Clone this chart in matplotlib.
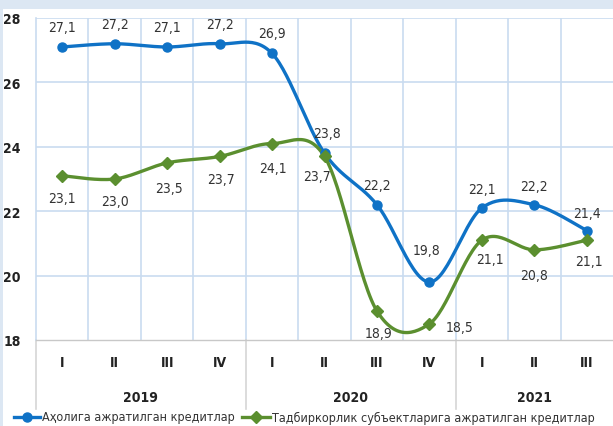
import matplotlib.pyplot as plt
import numpy as np
from matplotlib.lines import Line2D
from matplotlib.patches import Rectangle

# --- данные ---
quarters = ["I", "II", "III", "IV", "I", "II", "III", "IV", "I", "II", "III"]
years = ["2019", "2020", "2021"]
year_first = [0, 4, 8]
year_last = [3, 7, 10]

population = [27.1, 27.2, 27.1, 27.2, 26.9, 23.8, 22.2, 19.8, 22.1, 22.2, 21.4]
business = [23.1, 23.0, 23.5, 23.7, 24.1, 23.7, 18.9, 18.5, 21.1, 20.8, 21.1]

series_names = ["Аҳолига ажратилган кредитлар",
                "Тадбиркорлик субъектларига ажратилган кредитлар"]

# подписи: смещение в пикселях (dx, dy) от точки
pop_offsets = [(0, 20), (0, 20), (0, 20), (0, 20), (0, 20), (2, 20),
               (0, 20), (-3, 32), (0, 19), (0, 19), (0, 18)]
bus_offsets = [(0, -22), (0, -22), (2, -25), (1, -23), (1, -24), (-7, -20),
               (2, -22), (30, -3), (8, -19), (0, -25), (2, -21)]

BLUE = "#0f72c6"
GREEN = "#5b8f2f"
GRID = "#c9dcf0"
BG = "#dce7f3"
FONT = dict(fontfamily="DejaVu Sans", fontstretch="condensed")

W, H = 613, 427


def smooth(y, n=30):
    """Сглаживание как в Excel (кривые Безье, Catmull-Rom)."""
    x = np.arange(len(y), dtype=float)
    y = np.asarray(y, dtype=float)
    px = np.concatenate([[x[0]], x, [x[-1]]])
    py = np.concatenate([[y[0]], y, [y[-1]]])
    t = np.linspace(0, 1, n)[:, None]
    out = []
    for i in range(len(x) - 1):
        p0 = np.array([px[i], py[i]])
        p1 = np.array([px[i + 1], py[i + 1]])
        p2 = np.array([px[i + 2], py[i + 2]])
        p3 = np.array([px[i + 3], py[i + 3]])
        c1 = p1 + (p2 - p0) / 6
        c2 = p2 - (p3 - p1) / 6
        seg = ((1 - t) ** 3) * p1 + 3 * ((1 - t) ** 2) * t * c1 \
            + 3 * (1 - t) * t ** 2 * c2 + t ** 3 * p2
        out.append(seg if i == 0 else seg[1:])
    out = np.vstack(out)
    return out[:, 0], out[:, 1]


fig = plt.figure(figsize=(W / 100, H / 100), dpi=100, facecolor="white")

# светло-голубая рамка сверху и слева
fig.patches.append(Rectangle((0, 1 - 10 / H), 1, 10 / H, transform=fig.transFigure,
                             facecolor=BG, edgecolor="none", zorder=0))
fig.patches.append(Rectangle((0, 0), 3 / W, 1, transform=fig.transFigure,
                             facecolor=BG, edgecolor="none", zorder=0))

top_px, bot_px, left_px = 19, 341, 36
ax = fig.add_axes([left_px / W, (H - bot_px) / H, (W - left_px) / W, (bot_px - top_px) / H])
x = np.arange(len(quarters))
ax.set_xlim(-0.5, len(quarters) - 0.5)
ax.set_ylim(18, 28)
ax.set_yticks(range(18, 29, 2))
ax.set_yticklabels([str(v) for v in range(18, 29, 2)], fontweight="bold",
                   fontsize=10, color="#222222", **FONT)
ax.tick_params(axis="y", length=0, pad=11)
ax.set_xticks([])

for v in range(20, 29, 2):
    ax.axhline(v, color=GRID, lw=1.2, zorder=0)
for b in np.arange(0.5, len(quarters) - 0.5, 1):
    ax.axvline(b, color=GRID, lw=1.2, zorder=0)
for s in ["top", "right"]:
    ax.spines[s].set_visible(False)
ax.spines["left"].set_color(GRID)
ax.spines["left"].set_linewidth(1.2)
ax.spines["bottom"].set_color("#c8c8c8")
ax.spines["bottom"].set_linewidth(1.0)

# линии
sx, sy = smooth(population)
ax.plot(sx, sy, color=BLUE, lw=2.4, zorder=3, solid_capstyle="round")
ax.plot(x, population, "o", color=BLUE, ms=6.5, zorder=4)
sx, sy = smooth(business)
ax.plot(sx, sy, color=GREEN, lw=2.4, zorder=3, solid_capstyle="round")
ax.plot(x, business, "D", color=GREEN, ms=5.8, zorder=4)

for xi, v, (dx, dy) in zip(x, population, pop_offsets):
    ax.annotate(f"{v:.1f}".replace(".", ","), (xi, v), xytext=(dx, dy),
                textcoords="offset pixels", ha="center", va="center",
                fontsize=10, color="#333333", zorder=5, **FONT)
for xi, v, (dx, dy) in zip(x, business, bus_offsets):
    ax.annotate(f"{v:.1f}".replace(".", ","), (xi, v), xytext=(dx, dy),
                textcoords="offset pixels", ha="center", va="center",
                fontsize=10, color="#333333", zorder=5, **FONT)

# ось категорий: кварталы и годы
yq = -(363 - bot_px) / (bot_px - top_px)
yy = -(398 - bot_px) / (bot_px - top_px)
yend = -(410 - bot_px) / (bot_px - top_px)
trans = ax.get_xaxis_transform()
for xi, q in zip(x, quarters):
    ax.text(xi, yq, q, transform=trans, ha="center", va="center",
            fontweight="bold", fontsize=10, color="#222222", **FONT)
for name, a, b in zip(years, year_first, year_last):
    ax.text((a + b) / 2, yy, name, transform=trans, ha="center", va="center",
            fontweight="bold", fontsize=10, color="#222222", **FONT)
for b in [-0.5, 3.5, 7.5]:
    ax.plot([b, b], [0, yend], transform=trans, color="#d6d6d6", lw=1.2, clip_on=False)

# легенда (вручную, в пикселях)
leg_y = (H - 418) / H
for (x0, x1, txt_x), color, marker, ms, name in zip(
        [(14, 40, 42), (242, 270, 272)], [BLUE, GREEN], ["o", "D"], [6.5, 5.8], series_names):
    fig.add_artist(Line2D([x0 / W, x1 / W], [leg_y, leg_y], transform=fig.transFigure,
                          color=color, lw=2.4))
    fig.add_artist(Line2D([(x0 + x1) / 2 / W], [leg_y], transform=fig.transFigure,
                          color=color, marker=marker, ms=ms))
    fig.text(txt_x / W, leg_y, name, ha="left", va="center", fontsize=9,
             color="#333333", **FONT)

fig.savefig("out.png", dpi=100)
